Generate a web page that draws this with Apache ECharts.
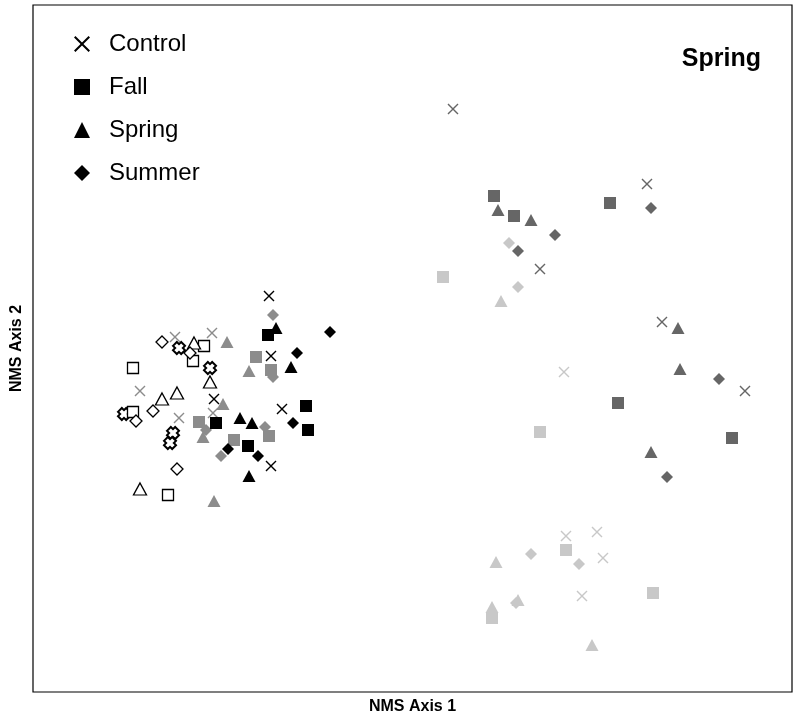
<!DOCTYPE html>
<html>
<head>
<meta charset="utf-8">
<script src="https://cdn.jsdelivr.net/npm/echarts@6/dist/echarts.min.js"></script>
<style>html,body{margin:0;padding:0;background:#fff}#chart{width:793px;height:721px}</style>
</head>
<body>
<div id="chart"></div>
<script>
// NMS scores [axis1, axis2]
const treatments = ['Control', 'Fall', 'Spring', 'Summer'];

// hollow (white) group
const hollowControl = [[1.46,3.44],[1.77,3.24],[0.91,2.78],[1.40,2.59],[1.37,2.49]];
const hollowFall    = [[1.71,3.46],[1.60,3.31],[1.00,3.24],[1.00,2.80],[1.35,1.97]];
const hollowSpring  = [[1.61,3.49],[1.77,3.10],[1.44,2.99],[1.29,2.93],[1.07,2.03]];
const hollowSummer  = [[1.29,3.50],[1.57,3.39],[1.03,2.71],[1.20,2.81],[1.44,2.23]];

// medium gray group
const mediumControl = [[1.42,3.55],[1.79,3.59],[1.07,3.01],[1.46,2.74],[1.80,2.79]];
const mediumFall    = [[2.23,3.35],[2.38,3.22],[1.66,2.70],[2.01,2.52],[2.36,2.56]];
const mediumSpring  = [[1.94,3.50],[2.16,3.21],[1.90,2.88],[1.70,2.55],[1.81,1.91]];
const mediumSummer  = [[2.40,3.77],[2.40,3.15],[1.73,2.62],[1.88,2.36],[2.32,2.65]];

// black group
const blackControl = [[2.36,3.96],[2.38,3.36],[1.81,2.93],[2.49,2.83],[2.38,2.26]];
const blackFall    = [[2.35,3.57],[1.83,2.69],[2.15,2.46],[2.73,2.86],[2.75,2.62]];
const blackSpring  = [[2.43,3.64],[2.58,3.25],[2.07,2.74],[2.19,2.69],[2.16,2.16]];
const blackSummer  = [[2.97,3.60],[2.64,3.39],[2.60,2.69],[1.95,2.43],[2.25,2.36]];

// dark gray group
const darkControl = [[4.20,5.83],[5.07,4.23],[6.14,5.08],[6.29,3.70],[7.12,3.01]];
const darkFall    = [[4.61,4.96],[4.81,4.76],[5.77,4.89],[5.85,2.89],[6.99,2.54]];
const darkSpring  = [[4.65,4.82],[4.98,4.72],[6.45,3.64],[6.47,3.23],[6.18,2.40]];
const darkSummer  = [[5.22,4.57],[4.85,4.41],[6.18,4.84],[6.86,3.13],[6.34,2.15]];

// light gray group
const lightControl = [[5.31,3.20],[5.33,1.56],[5.64,1.60],[5.70,1.34],[5.49,0.96]];
const lightFall    = [[4.10,4.15],[5.07,2.60],[5.33,1.42],[6.20,0.99],[4.59,0.74]];
const lightSpring  = [[4.68,3.91],[4.63,1.30],[4.85,0.92],[4.59,0.85],[5.59,0.47]];
const lightSummer  = [[4.76,4.49],[4.85,4.05],[4.98,1.38],[5.46,1.28],[4.83,0.89]];

const xRange = [0, 7.59];
const yRange = [0, 6.87];

const THIN_X = 'path://M0,9L9,0L50,41L91,0L100,9L59,50L100,91L91,100L50,59L9,100L0,91L41,50Z';
const FAT_X  = 'path://M0,32L32,0L50,18L68,0L100,32L82,50L100,68L68,100L50,82L32,100L0,68L18,50Z';

const shapes = {
  Control: { symbol: THIN_X, size: 11 },
  Fall:    { symbol: 'rect', size: 12 },
  Spring:  { symbol: 'triangle', size: [13, 12] },
  Summer:  { symbol: 'diamond', size: 12 }
};

const groups = [
  { key: 'hollow', color: '#ffffff', data: [hollowControl, hollowFall, hollowSpring, hollowSummer] },
  { key: 'medium', color: '#8c8c8c', data: [mediumControl, mediumFall, mediumSpring, mediumSummer] },
  { key: 'black',  color: '#000000', data: [blackControl, blackFall, blackSpring, blackSummer] },
  { key: 'dark',   color: '#666666', data: [darkControl, darkFall, darkSpring, darkSummer] },
  { key: 'light',  color: '#c8c8c8', data: [lightControl, lightFall, lightSpring, lightSummer] }
];

const series = [];
groups.forEach(g => {
  treatments.forEach((t, i) => {
    const sh = shapes[t];
    const hollow = g.key === 'hollow';
    let symbol = sh.symbol, size = sh.size;
    if (hollow && t === 'Control') { symbol = FAT_X; size = 12; }
    if (hollow && t === 'Fall') size = 11;
    series.push({
      type: 'scatter',
      name: g.key + ' ' + t,
      data: g.data[i],
      symbol: symbol,
      symbolSize: size,
      itemStyle: hollow
        ? { color: '#ffffff', borderColor: '#000000', borderWidth: (t === 'Control' ? 2 : 1.3), opacity: 1 }
        : { color: g.color, opacity: 1 },
      emphasis: { disabled: true },
      silent: true
    });
  });
});

// legend-only series
treatments.forEach(t => {
  series.push({ type: 'scatter', name: t, data: [], symbol: shapes[t].symbol, color: '#000', itemStyle: { color: '#000', opacity: 1 } });
});

const FONT = 'Liberation Sans, Arial, sans-serif';
const chart = echarts.init(document.getElementById('chart'), null, { renderer: 'canvas' });
chart.setOption({
  animation: false,
  backgroundColor: '#ffffff',
  textStyle: { fontFamily: FONT },
  grid: { left: 33, right: 1, top: 5, bottom: 29, show: true, borderColor: '#000', borderWidth: 1.2, backgroundColor: '#fff' },
  legend: {
    orient: 'vertical', left: 69, top: 25, itemWidth: 16, itemHeight: 16, itemGap: 15,
    selectedMode: false,
    itemStyle: { color: '#000', opacity: 1 },
    data: [
      { name: 'Control', icon: THIN_X },
      { name: 'Fall', icon: 'rect' },
      { name: 'Spring', icon: 'triangle' },
      { name: 'Summer', icon: 'diamond' }
    ],
    textStyle: { fontSize: 24, color: '#000', padding: [0, 0, 0, 14], fontFamily: FONT, lineHeight: 28 }
  },
  title: {
    text: 'Spring', right: 27, top: 42,
    textStyle: { fontSize: 25, fontWeight: 'bold', color: '#000', fontFamily: FONT }
  },
  xAxis: {
    type: 'value', min: xRange[0], max: xRange[1],
    name: 'NMS Axis 1', nameLocation: 'middle', nameGap: 7,
    nameTextStyle: { fontSize: 16, fontWeight: 'bold', color: '#000', verticalAlign: 'top', fontFamily: FONT },
    axisLine: { show: false }, axisTick: { show: false }, axisLabel: { show: false }, splitLine: { show: false }
  },
  yAxis: {
    type: 'value', min: yRange[0], max: yRange[1],
    name: 'NMS Axis 2', nameLocation: 'middle', nameGap: 8,
    nameTextStyle: { fontSize: 16, fontWeight: 'bold', color: '#000', fontFamily: FONT },
    axisLine: { show: false }, axisTick: { show: false }, axisLabel: { show: false }, splitLine: { show: false }
  },
  series: series
});
</script>
</body>
</html>
